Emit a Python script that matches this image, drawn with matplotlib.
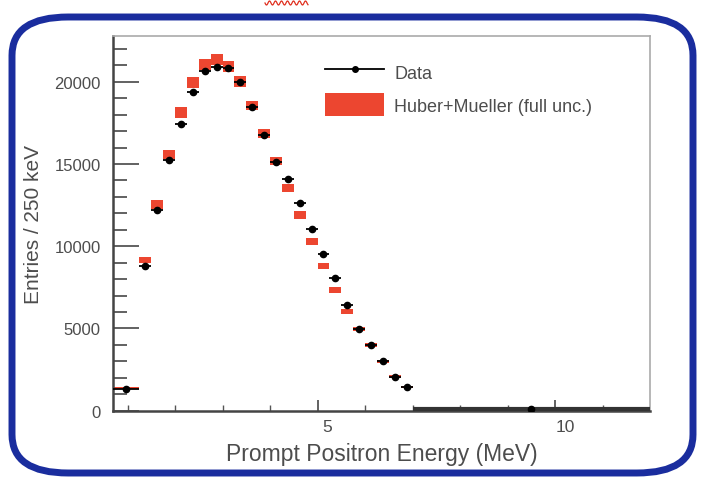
import numpy as np
import matplotlib
matplotlib.use('Agg')
import matplotlib.pyplot as plt
import matplotlib.transforms as mtransforms
from matplotlib.patches import FancyBboxPatch, Patch
from matplotlib.lines import Line2D

plt.rcParams['font.family'] = ['Liberation Sans', 'DejaVu Sans']

# bin edges (MeV): wide first bin, 250 keV bins up to 7 MeV, then one wide bin
edges = [0.7, 1.25, 1.5, 1.75, 2.0, 2.25, 2.5, 2.75, 3.0, 3.25, 3.5, 3.75, 4.0,
         4.25, 4.5, 4.75, 5.0, 5.25, 5.5, 5.75, 6.0, 6.25, 6.5, 6.75, 7.0, 12.0]

data = [1320, 8800, 12190, 15220, 17430, 19370, 20640, 20910, 20810, 20000,
        18480, 16780, 15140, 14110, 12650, 11030, 9510, 8060, 6420, 4960,
        3990, 3000, 2060, 1420, 100]

huber_mueller = [1400, 9170, 12550, 15590, 18120, 19940, 21050, 21350, 20950,
                 20000, 18560, 16840, 15180, 13520, 11900, 10300, 8790, 7330,
                 6040, 4960, 3990, 3000, 2080, 1440, 100]

hm_unc = [60, 200, 260, 290, 320, 330, 340, 340, 330, 320, 300, 280, 260, 240,
          220, 200, 190, 170, 150, 130, 110, 100, 90, 80, 40]

edges = np.array(edges)
centers = 0.5 * (edges[:-1] + edges[1:])
widths = np.diff(edges)
data = np.array(data)
hm = np.array(huber_mueller)
unc = np.array(hm_unc)

red = '#ec4630'
txt = '#4d4d4d'

fig = plt.figure(figsize=(7.02, 4.81), dpi=100)
ax = fig.add_axes([0.1614, 0.1441, 0.7646, 0.7796])

ax.bar(centers, 2 * unc, bottom=hm - unc, width=widths, color=red,
       linewidth=0, zorder=2)
ax.errorbar(centers[:-1], data[:-1], xerr=widths[:-1] / 2, fmt='o', color='black',
            ms=4.5, elinewidth=1.3, capsize=0, zorder=3)
ax.errorbar(centers[-1:], data[-1:], xerr=widths[-1:] / 2, fmt='o', color='black',
            ms=4.5, elinewidth=3, ecolor='#333333', capsize=0, zorder=3)

ax.set_xlim(0.7, 12)
ax.set_ylim(0, 22800)
ax.set_xticks([5, 10])
ax.set_xticks([1, 2, 3, 4, 6, 7, 8, 9, 11], minor=True)
ax.set_yticks([0, 5000, 10000, 15000, 20000])
ax.set_yticks([v for v in range(1000, 23000, 1000) if v % 5000], minor=True)

ax.tick_params(axis='y', which='major', direction='in', length=19, width=1.3,
               color='#555555', labelsize=12, labelcolor=txt, pad=9)
ax.tick_params(axis='y', which='minor', direction='in', length=10, width=1.3,
               color='#555555')
ax.tick_params(axis='x', which='major', direction='in', length=8, width=1.3,
               color='#555555', labelsize=12.5, labelcolor=txt, pad=6)
ax.tick_params(axis='x', which='minor', direction='in', length=4, width=1.0,
               color='#555555')

# x tick labels sit a little right of their ticks
shift = mtransforms.ScaledTranslation(10 / 100, 0, fig.dpi_scale_trans)
for lab in ax.get_xticklabels():
    lab.set_transform(lab.get_transform() + shift)

for s in ['top', 'right']:
    ax.spines[s].set_color('#aaaaaa')
    ax.spines[s].set_linewidth(1.2)
for s in ['left', 'bottom']:
    ax.spines[s].set_color('#444444')
    ax.spines[s].set_linewidth(1.8)

ax.set_xlabel('Prompt Positron Energy (MeV)', fontsize=16.5, color=txt, labelpad=6)
ax.set_ylabel('Entries / 250 keV', fontsize=15, color=txt, labelpad=8)

handles = [Line2D([], [], color='black', lw=1.3, marker='o', ms=4),
           Patch(facecolor=red, edgecolor='none')]
ax.legend(handles, ['Data', 'Huber+Mueller (full unc.)'], loc='upper left',
          bbox_to_anchor=(0.394, 0.935), frameon=False, fontsize=13,
          labelcolor=txt, handlelength=3.3, handleheight=1.6,
          handletextpad=0.55, labelspacing=0.55, borderpad=0, borderaxespad=0)

# rounded blue frame around the whole plot
frame = FancyBboxPatch((12 / 702, 1 - 474 / 481), 681 / 702, 456 / 481,
                       boxstyle='round,pad=0,rounding_size=0.08',
                       transform=fig.transFigure, facecolor='none',
                       edgecolor='#1a2d9e', linewidth=5, zorder=10)
fig.patches.append(frame)

# small red squiggle at the top edge
sx = np.linspace(265, 308, 120)
sy = 4 + 2.0 * np.sin((sx - 265) / 3.0 * np.pi)
fig.add_artist(Line2D(sx / 702, 1 - sy / 481, transform=fig.transFigure,
                      color='#e03020', lw=0.9))

fig.savefig('out.png', dpi=100)
